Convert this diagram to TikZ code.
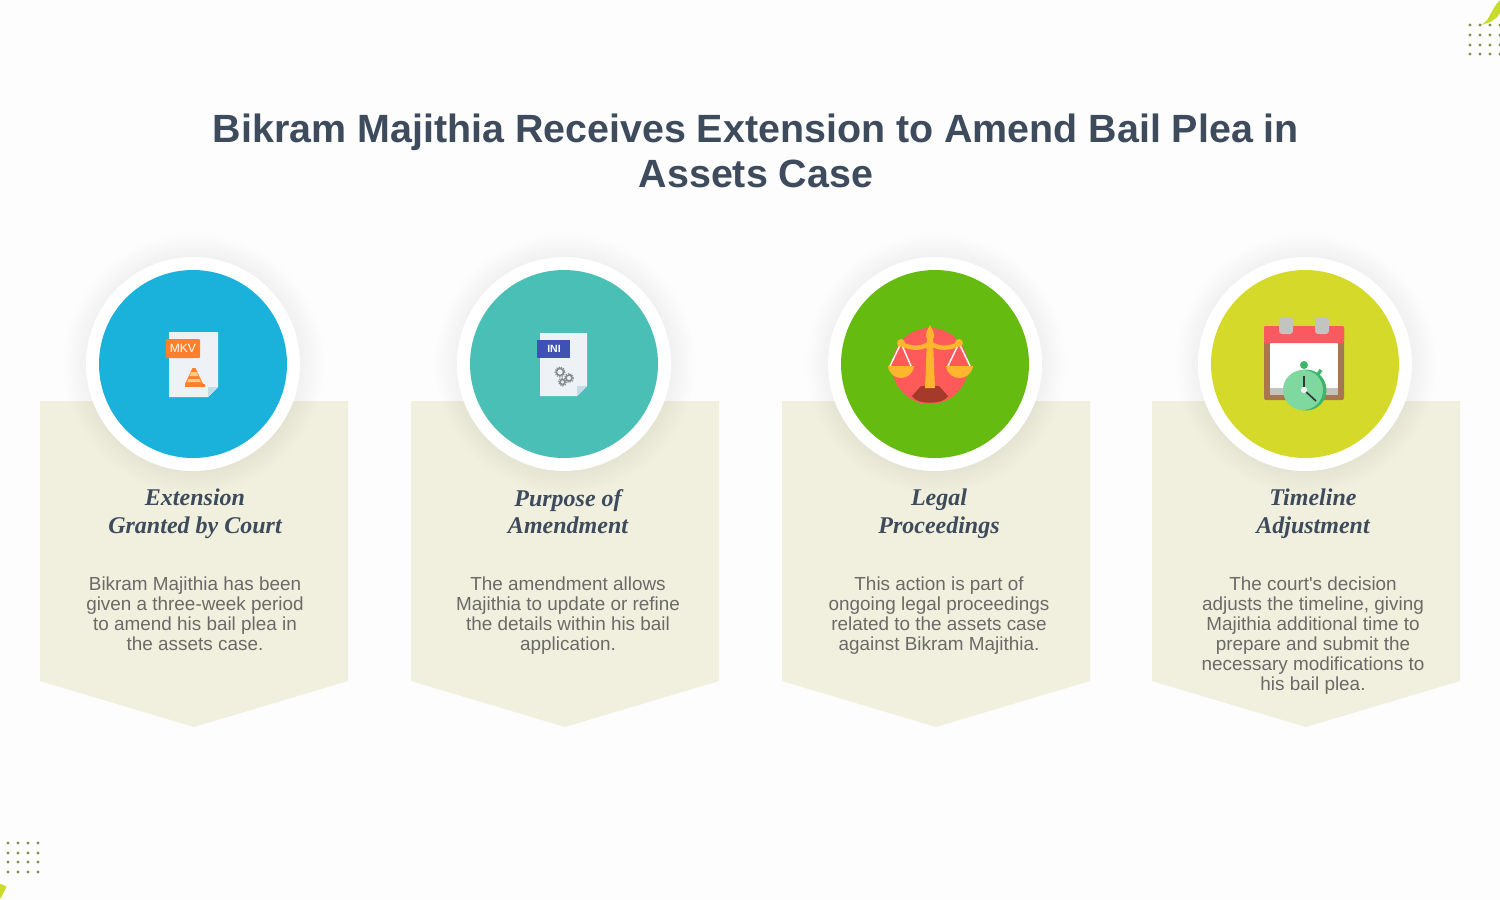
\documentclass[tikz,border=0pt]{standalone}
\usepackage{fontspec}
\setmainfont{Liberation Sans}
\newfontfamily\bodyfont{Liberation Sans}
\newfontfamily\headfont{Liberation Serif}
\usepackage{xcolor}
\definecolor{pagebg}{HTML}{FDFDFE}
\definecolor{cardbg}{HTML}{F1F0DF}
\definecolor{titleink}{HTML}{3D4B5C}
\definecolor{bodyink}{HTML}{6A6A66}
\definecolor{skyblue}{HTML}{1AB2DB}
\definecolor{tealblue}{HTML}{4ABFB5}
\definecolor{leafgreen}{HTML}{66BB10}
\definecolor{limeyellow}{HTML}{D4D92A}
\definecolor{paper}{HTML}{EEF2F6}
\definecolor{paperfold}{HTML}{C5DCE8}
\definecolor{tagorange}{HTML}{FF7F2A}
\definecolor{tagblue}{HTML}{3F51B5}
\definecolor{gearink}{HTML}{858C90}
\definecolor{scalered}{HTML}{FF5A5A}
\definecolor{scalegold}{HTML}{FFB52E}
\definecolor{scalebase}{HTML}{A63A2A}
\definecolor{calred}{HTML}{F9595F}
\definecolor{calbrown}{HTML}{A9774F}
\definecolor{calgrey}{HTML}{C3C3BF}
\definecolor{clockgreen}{HTML}{7FD8A0}
\definecolor{clockdark}{HTML}{3DB56A}
\definecolor{dotink}{HTML}{7F8F4A}
\definecolor{leafink}{HTML}{C9DC2E}
\tikzset{
    cardbox/.style={fill=cardbg},
    titletext/.style={font=\fontsize{39.4}{45}\selectfont\bfseries, text=titleink, align=center},
    headtext/.style={font=\headfont\fontsize{24}{27.5}\selectfont\bfseries\itshape, text=titleink, align=center, anchor=north, inner sep=0pt, execute at begin node=\strut},
    bodytext/.style={font=\bodyfont\fontsize{18.9}{19.9}\selectfont, text=bodyink, align=center, anchor=north, inner sep=0pt, execute at begin node=\strut},
    tagtext/.style={font=\fontsize{12}{12}\selectfont, text=white, inner sep=0pt},
    cornerdot/.style={fill=dotink}
}
\begin{document}
\begin{tikzpicture}[x=1pt,y=-1pt]
    \useasboundingbox (0,0) rectangle (1500,900);
    \fill[pagebg] (0,0) rectangle (1500,900);

    % corners
    \fill[leafink] (1480,25) .. controls (1490,22) and (1490,10) .. (1500,0) -- (1500,13) .. controls (1496,20) and (1490,23) .. cycle;
    \fill[leafink] (0,884) .. controls (4,885) and (7,886) .. (6,888) .. controls (4,892) and (2,896) .. (0,899) -- cycle;
    \foreach \dx in {1470,1480,1490,1500}
        \foreach \dy in {25,35,45,54}
            \fill[cornerdot] (\dx,\dy) circle (1.7);
    \foreach \dx in {8,18,28,38}
        \foreach \dy in {843,853,862,872}
            \fill[cornerdot] (\dx,\dy) circle (1.7);

    \node[titletext] (title) at (756,151) {Bikram Majithia Receives Extension to Amend Bail Plea in\\Assets Case};

    % cards, shadows and discs
    \foreach \cx/\col in {194/skyblue,565/tealblue,936/leafgreen,1306/limeyellow} {
        \fill[cardbox] (\cx-154,401) -- (\cx+154,401) -- (\cx+154,681) -- (\cx,727) -- (\cx-154,681) -- cycle;
        \foreach \r in {108,110,...,130}
            \fill[black, opacity=0.005] (\cx,364) circle (\r);
        \fill[white] (\cx-1,364) circle (107);
        \fill[\col] (\cx-1,364) circle (94);
    }

    \node[headtext] (headA) at (195,489) {Extension\\Granted by Court};
    \node[headtext] (headB) at (568,489) {Purpose of\\Amendment};
    \node[headtext] (headC) at (939,489) {Legal\\Proceedings};
    \node[headtext] (headD) at (1313,489) {Timeline\\Adjustment};

    \node[bodytext] (bodyA) at (195,577) {Bikram Majithia has been\\given a three-week period\\to amend his bail plea in\\the assets case.};
    \node[bodytext] (bodyB) at (568,577) {The amendment allows\\Majithia to update or refine\\the details within his bail\\application.};
    \node[bodytext] (bodyC) at (939,577) {This action is part of\\ongoing legal proceedings\\related to the assets case\\against Bikram Majithia.};
    \node[bodytext] (bodyD) at (1313,577) {The court's decision\\adjusts the timeline, giving\\Majithia additional time to\\prepare and submit the\\necessary modifications to\\his bail plea.};

    % MKV icon
    \fill[paper] (169,332) -- (218,332) -- (218,387) -- (208,397) -- (169,397) -- cycle;
    \fill[paperfold] (218,387) -- (208,387) -- (208,397) -- cycle;
    \fill[tagorange, rounded corners=1pt] (166,339) rectangle (200,358);
    \node[tagtext] (tagA) at (183,348.5) {MKV};
    \fill[tagorange] (192.5,368) -- (195.5,368) -- (203,384) -- (185,384) -- cycle;
    \fill[paper!40!scalegold] (191,372) -- (197,372) -- (198.5,376) -- (189.5,376) -- cycle;
    \fill[paper!40!scalegold] (188.5,379) -- (199.5,379) -- (201,382) -- (187,382) -- cycle;
    \fill[tagorange] (185,384) rectangle (205,387);

    % INI icon
    \fill[paper] (540,333) -- (587,333) -- (587,386) -- (577,396) -- (540,396) -- cycle;
    \fill[paperfold] (587,386) -- (577,386) -- (577,396) -- cycle;
    \fill[tagblue] (537,340) rectangle (570,358);
    \node[tagtext, font=\fontsize{10.5}{12}\selectfont\bfseries] (tagB) at (554,349) {INI};
    \foreach \gx/\gy/\gr in {560/372/3.6,569/378/3,562.5/382/2.5} {
        \draw[gearink, line width=1.6pt] (\gx,\gy) circle (\gr);
        \draw[gearink, line width=1.2pt, dash pattern=on 1.2pt off 1.2pt] (\gx,\gy) circle (\gr+1.4);
    }

    % scales icon
    \fill[scalered] (930,366) circle (38);
    \fill[scalebase] (921,386) -- (939,386) -- (948,396) .. controls (944,405) and (916,405) .. (912,396) -- cycle;
    \draw[white, line width=1.4pt] (901,343) -- (890,366) (901,343) -- (911,366);
    \draw[white, line width=1.4pt] (959,343) -- (948,366) (959,343) -- (970,366);
    \fill[scalegold] (888,366) -- (914,366) .. controls (912,382) and (890,382) .. (888,366) -- cycle;
    \fill[scalegold] (946,366) -- (973,366) .. controls (971,382) and (948,382) .. (946,366) -- cycle;
    \draw[scalegold, line width=4.5pt] (901,344) .. controls (912,349) and (922,349) .. (930,343) .. controls (938,349) and (948,349) .. (959,344);
    \fill[scalegold] (901,343) circle (4) (959,343) circle (4);
    \fill[scalegold] (925,388) -- (927,340) .. controls (924,334) and (928,329) .. (930,325) .. controls (932,329) and (936,334) .. (933,340) -- (935,388) -- cycle;

    % calendar icon
    \fill[calbrown, rounded corners=2pt] (1264,326) rectangle (1344,400);
    \fill[white] (1270,343) rectangle (1338,388);
    \fill[calgrey] (1270,388) rectangle (1338,395);
    \fill[calred, rounded corners=2pt] (1264,326) rectangle (1344,343);
    \fill[calgrey, rounded corners=3pt] (1279,317) rectangle (1293,334);
    \fill[calgrey, rounded corners=3pt] (1315,317) rectangle (1329,334);
    \fill[clockdark] (1304,365) circle (4);
    \draw[clockdark, line width=3.5pt] (1316,377) -- (1321,370);
    \fill[clockdark] (1306,390) circle (20.5);
    \fill[clockgreen] (1303,390) circle (20);
    \draw[black!80, line width=1.6pt] (1304,390) -- (1304,376);
    \draw[black!80, line width=1.6pt] (1304,390) -- (1316,401);
    \fill[paper] (1304,390) circle (3.2);
\end{tikzpicture}
\end{document}
